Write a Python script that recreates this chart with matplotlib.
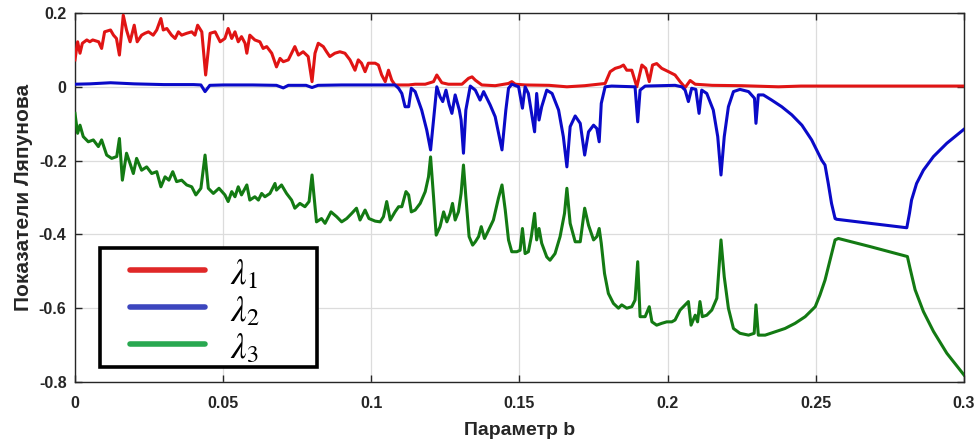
import matplotlib
matplotlib.use("Agg")
import matplotlib.pyplot as plt
from matplotlib.lines import Line2D
from matplotlib.patches import Rectangle

# ---- data ----
b1 = [0, 0.0009, 0.0017, 0.0025, 0.004, 0.005, 0.006, 0.008, 0.009, 0.010, 0.012, 0.013, 0.014, 0.015, 0.0163,
      0.0174, 0.0186, 0.020, 0.021, 0.0225, 0.0236, 0.0248, 0.0264, 0.0276, 0.029, 0.0298, 0.031, 0.0326, 0.0338,
      0.0349, 0.036, 0.0377, 0.0394, 0.0405, 0.0414, 0.0428, 0.0441, 0.0456, 0.0473, 0.049, 0.0506,
      0.0517, 0.0529, 0.054, 0.0551, 0.0562, 0.0574, 0.058, 0.059, 0.0607, 0.0624, 0.0635, 0.0647, 0.0664, 0.068,
      0.0692, 0.0703, 0.072, 0.0731, 0.0742, 0.0754, 0.077, 0.0787, 0.080, 0.081, 0.0821, 0.0838, 0.0849, 0.086,
      0.0877, 0.0894, 0.0911, 0.0928, 0.0945, 0.0956, 0.0967, 0.0979, 0.099, 0.1013,
      0.1024, 0.1035, 0.1047, 0.1058, 0.1069, 0.108, 0.1126, 0.1148, 0.1182, 0.121, 0.1221, 0.1238, 0.126, 0.1306,
      0.1328, 0.134, 0.1351, 0.1373, 0.1418, 0.1463, 0.1474, 0.1486, 0.1519,
      0.160, 0.166, 0.172, 0.1789, 0.1806, 0.1823, 0.184, 0.1851, 0.1862, 0.1879, 0.1896, 0.1913, 0.1926, 0.1938,
      0.1949, 0.1963, 0.198, 0.2003, 0.2025,
      0.2042, 0.2059, 0.2076, 0.2093, 0.215, 0.225, 0.2374, 0.245, 0.26, 0.28, 0.3]
lam1 = [0.073, 0.122, 0.091, 0.118, 0.127, 0.122, 0.127, 0.122, 0.104, 0.149, 0.154, 0.140, 0.131, 0.086, 0.194,
        0.154, 0.122, 0.167, 0.122, 0.140, 0.145, 0.149, 0.140, 0.154, 0.185, 0.154, 0.158, 0.140, 0.131,
        0.149, 0.140, 0.145, 0.149, 0.140, 0.167, 0.149, 0.032, 0.145, 0.149, 0.122, 0.131,
        0.158, 0.131, 0.149, 0.122, 0.136, 0.118, 0.091, 0.140, 0.127, 0.122, 0.104, 0.109, 0.091, 0.054,
        0.077, 0.068, 0.073, 0.091, 0.109, 0.086, 0.095, 0.082, 0.014, 0.091, 0.118, 0.109, 0.095, 0.082,
        0.091, 0.095, 0.091, 0.073, 0.045, 0.073, 0.064, 0.041, 0.064, 0.064,
        0.059, 0.032, 0.014, 0.045, 0.018, 0.005, 0.005, 0.007, 0.007, 0.014, 0.032, 0.011, 0.007, 0.007,
        0.023, 0.027, 0.018, 0.005, 0.003, 0.009, 0.014, 0.007, 0.005,
        0.004, 0.0, 0.003, 0.009, 0.041, 0.05, 0.054, 0.059, 0.045, 0.045, 0.0, 0.059, 0.05, 0.014,
        0.059, 0.063, 0.05, 0.041, 0.032,
        0.014, -0.002, 0.017, 0.007, 0.004, 0.003, 0.0, 0.002, 0.002, 0.002, 0.002]

b2 = [0, 0.005, 0.012, 0.02, 0.03, 0.04, 0.0425, 0.0439, 0.0455, 0.05, 0.06, 0.068, 0.0703, 0.072, 0.078, 0.080,
      0.082, 0.09, 0.1, 0.108,
      0.1092, 0.1103, 0.1114, 0.1126, 0.1135, 0.1148, 0.117, 0.1187, 0.12, 0.121, 0.1221, 0.1232, 0.1241, 0.1252,
      0.1263, 0.1272, 0.1283, 0.1297, 0.1303, 0.1311, 0.1319, 0.1334, 0.1351, 0.1367, 0.1379, 0.1401, 0.1418,
      0.1441, 0.1454, 0.1463, 0.1474, 0.1497, 0.151, 0.1519,
      0.153, 0.1551, 0.1558, 0.1566, 0.1575, 0.1592, 0.161, 0.1632, 0.1648, 0.166, 0.1671, 0.1688, 0.1705, 0.172,
      0.1733, 0.175, 0.1761, 0.1769, 0.1776, 0.1789, 0.1811, 0.189, 0.1899, 0.1907, 0.1924, 0.2025,
      0.2048, 0.2059, 0.207, 0.2081, 0.2095, 0.2106, 0.2115, 0.2132, 0.2154, 0.2169, 0.218, 0.2191, 0.2205, 0.2222,
      0.2244, 0.2273, 0.2293, 0.2298, 0.2306, 0.2323, 0.2351, 0.2385, 0.2419, 0.2453, 0.2486, 0.252, 0.2531,
      0.2542, 0.2553, 0.2565, 0.257, 0.2683, 0.2807, 0.2816, 0.2823, 0.284, 0.2863, 0.2897, 0.2942, 0.3]
lam2 = [0.007, 0.008, 0.011, 0.008, 0.006, 0.006, 0.005, -0.013, 0.004, 0.005, 0.005, 0.004, -0.003, 0.004, 0.004,
        -0.002, 0.004, 0.005, 0.005, 0.005,
        -0.004, -0.018, -0.054, -0.054, -0.004, -0.013, -0.063, -0.117, -0.171, -0.09, 0.0, -0.027, -0.040, -0.009,
        -0.049, -0.072, -0.022, -0.063, -0.09, -0.18, -0.063, 0.002, -0.009, -0.036, -0.013, -0.049, -0.081,
        -0.171, -0.063, -0.004, 0.007, 0.0, -0.058, 0.0,
        -0.018, -0.122, -0.018, -0.09, -0.054, -0.009, -0.018, -0.063, -0.135, -0.217, -0.108, -0.079, -0.099, -0.185,
        -0.122, -0.104, -0.113, -0.149, -0.045, 0.0, 0.002, 0.0, -0.095, -0.009, 0.002, 0.004,
        0.0, -0.009, -0.040, -0.004, -0.007, -0.072, -0.009, -0.018, -0.063, -0.135, -0.239, -0.135, -0.054, -0.013,
        -0.007, -0.013, -0.031, -0.099, -0.022, -0.022, -0.036, -0.054, -0.076, -0.104, -0.144, -0.199, -0.212,
        -0.262, -0.316, -0.357, -0.359, -0.37, -0.382, -0.343, -0.307, -0.262, -0.226, -0.189, -0.153, -0.115]

b3 = [0, 0.0009, 0.0017, 0.0028, 0.0045, 0.0062, 0.0079, 0.009, 0.0107, 0.0124, 0.0141, 0.015, 0.016, 0.0174,
      0.0186, 0.0197, 0.0208, 0.0225, 0.0242, 0.0259, 0.0276, 0.029, 0.0304, 0.0317, 0.033, 0.0343, 0.036, 0.0377,
      0.0394, 0.0408, 0.0425, 0.0439, 0.045, 0.0467, 0.0486, 0.0506,
      0.0517, 0.0529, 0.054, 0.0551, 0.0562, 0.058, 0.059, 0.0607, 0.0619, 0.063, 0.0641, 0.0658, 0.0675, 0.068,
      0.0697, 0.0714, 0.0731, 0.0742, 0.0759, 0.0776, 0.079, 0.080, 0.0815, 0.0832, 0.0844, 0.0864, 0.0883, 0.09,
      0.0917, 0.0934, 0.095, 0.0962, 0.0979, 0.0992, 0.1013,
      0.103, 0.1041, 0.1052, 0.1064, 0.108, 0.1092, 0.1103, 0.1117, 0.1126, 0.1135, 0.1148, 0.1165, 0.1182, 0.1193,
      0.12, 0.121, 0.1219, 0.1232, 0.1244, 0.1255, 0.1266, 0.1274, 0.1283, 0.1294, 0.1303, 0.1311, 0.1319, 0.133,
      0.1342, 0.1351, 0.1362, 0.1371, 0.1382, 0.1396, 0.1412, 0.1429, 0.1441, 0.1452, 0.1463, 0.1474, 0.1491,
      0.1502, 0.151, 0.1519,
      0.153, 0.154, 0.1551, 0.1558, 0.1566, 0.1575, 0.1592, 0.1603, 0.162, 0.1637, 0.1652, 0.166, 0.1671, 0.1688,
      0.1705, 0.172, 0.1733, 0.175, 0.1761, 0.1769, 0.1776, 0.1787, 0.18, 0.1817, 0.1834, 0.1845, 0.1862, 0.1879,
      0.189, 0.1899, 0.1907, 0.1924, 0.1938, 0.1947, 0.1963, 0.198, 0.1997, 0.2014, 0.2025,
      0.2042, 0.2059, 0.207, 0.2079, 0.2093, 0.2101, 0.2109, 0.2117, 0.2132, 0.2149, 0.2166, 0.218, 0.2191, 0.2205,
      0.2222, 0.2244, 0.2273, 0.2292, 0.2298, 0.2306, 0.2329, 0.2363, 0.2396, 0.243, 0.2464, 0.2498, 0.2514,
      0.2531, 0.2548, 0.2565, 0.2576, 0.2683, 0.2809, 0.2818, 0.2835, 0.2863, 0.2897, 0.2942, 0.2987, 0.3]
lam3 = [-0.072, -0.126, -0.104, -0.135, -0.149, -0.144, -0.162, -0.144, -0.185, -0.194, -0.189, -0.14, -0.253, -0.18,
        -0.208, -0.235, -0.194, -0.226, -0.217, -0.235, -0.23, -0.271, -0.244, -0.253, -0.23, -0.257, -0.253, -0.266,
        -0.271, -0.293, -0.275, -0.185, -0.275, -0.289, -0.275, -0.293,
        -0.311, -0.284, -0.298, -0.271, -0.293, -0.266, -0.307, -0.298, -0.307, -0.289, -0.298, -0.289, -0.262, -0.28,
        -0.266, -0.289, -0.307, -0.329, -0.316, -0.325, -0.311, -0.239, -0.366, -0.357, -0.37, -0.339, -0.352, -0.366,
        -0.357, -0.343, -0.329, -0.361, -0.334, -0.357, -0.364,
        -0.366, -0.352, -0.311, -0.361, -0.339, -0.325, -0.325, -0.284, -0.293, -0.339, -0.334, -0.316, -0.284, -0.244,
        -0.19, -0.298, -0.402, -0.379, -0.339, -0.366, -0.343, -0.316, -0.361, -0.339, -0.289, -0.212, -0.298, -0.406,
        -0.429, -0.42, -0.406, -0.379, -0.411, -0.388, -0.361, -0.302, -0.266, -0.334, -0.415, -0.447, -0.447,
        -0.443, -0.384, -0.452,
        -0.447, -0.406, -0.343, -0.415, -0.384, -0.424, -0.461, -0.47, -0.452, -0.406, -0.343, -0.275, -0.37, -0.42,
        -0.42, -0.329, -0.375, -0.415, -0.406, -0.384, -0.424, -0.506, -0.56, -0.587, -0.6, -0.591, -0.6, -0.596,
        -0.578, -0.474, -0.623, -0.623, -0.596, -0.637, -0.646, -0.641, -0.637, -0.637, -0.632,
        -0.605, -0.591, -0.582, -0.646, -0.619, -0.637, -0.582, -0.623, -0.619, -0.605, -0.573, -0.415, -0.515, -0.6,
        -0.655, -0.668, -0.673, -0.668, -0.591, -0.673, -0.673, -0.664, -0.655, -0.641, -0.623, -0.596, -0.564,
        -0.524, -0.47, -0.415, -0.411, -0.433, -0.46, -0.492, -0.55, -0.609, -0.663, -0.722, -0.768, -0.781]

xticks = [0, 0.05, 0.1, 0.15, 0.2, 0.25, 0.3]
xticklabels = ["0", "0.05", "0.1", "0.15", "0.2", "0.25", "0.3"]
yticks = [0.2, 0, -0.2, -0.4, -0.6, -0.8]
yticklabels = ["0.2", "0", "-0.2", "-0.4", "-0.6", "-0.8"]
labels = [r"$\lambda_1$", r"$\lambda_2$", r"$\lambda_3$"]
legend_colors = ["#e02828", "#3c46be", "#28a850"]

# ---- figure ----
plt.rcParams["font.family"] = ["Liberation Sans", "DejaVu Sans"]
plt.rcParams["mathtext.fontset"] = "stix"

fig = plt.figure(figsize=(9.76, 4.41), dpi=100)
ax = fig.add_axes([0.0768, 0.1338, 0.9109, 0.8367])

ax.plot(b1, lam1, color="#e01414", lw=2.2, zorder=3)
ax.plot(b2, lam2, color="#0a0ac8", lw=2.2, zorder=4)
ax.plot(b3, lam3, color="#137a13", lw=2.2, zorder=3)

ax.set_xlim(0, 0.3)
ax.set_ylim(-0.8, 0.2)
ax.set_xticks(xticks)
ax.set_xticklabels(xticklabels)
ax.set_yticks(yticks)
ax.set_yticklabels(yticklabels)
ax.grid(True, color="#dcdcdc", lw=0.9)
ax.set_axisbelow(True)
ax.tick_params(direction="in", top=True, right=True, length=5, width=1.0,
               labelsize=11.5, colors="#262626")
ax.tick_params(axis="x", pad=10)
ax.tick_params(axis="y", pad=6)
for lab in ax.get_xticklabels() + ax.get_yticklabels():
    lab.set_fontweight("bold")
for s in ax.spines.values():
    s.set_color("#262626")
    s.set_linewidth(1.0)

ax.set_xlabel("Параметр b", fontsize=14, fontweight="bold", color="#262626", labelpad=8)
ax.set_ylabel("Показатели Ляпунова", fontsize=15, fontweight="bold", color="#262626", labelpad=4)

# ---- legend box (drawn in axes coordinates) ----
ax.add_patch(Rectangle((0.0281, 0.0407), 0.2441, 0.3224, transform=ax.transAxes,
                       facecolor="white", edgecolor="black", lw=2.6, zorder=10))
row_y = [0.3035, 0.2033, 0.1030]
for yy, c, lab in zip(row_y, legend_colors, labels):
    ax.add_line(Line2D([0.0619, 0.1462], [yy, yy], transform=ax.transAxes, color=c,
                       lw=4, solid_capstyle="round", zorder=11))
    ax.text(0.1745, yy - 0.012, lab, transform=ax.transAxes, fontsize=25, va="center",
            ha="left", color="black", zorder=11)

fig.savefig("out.png", dpi=100)
